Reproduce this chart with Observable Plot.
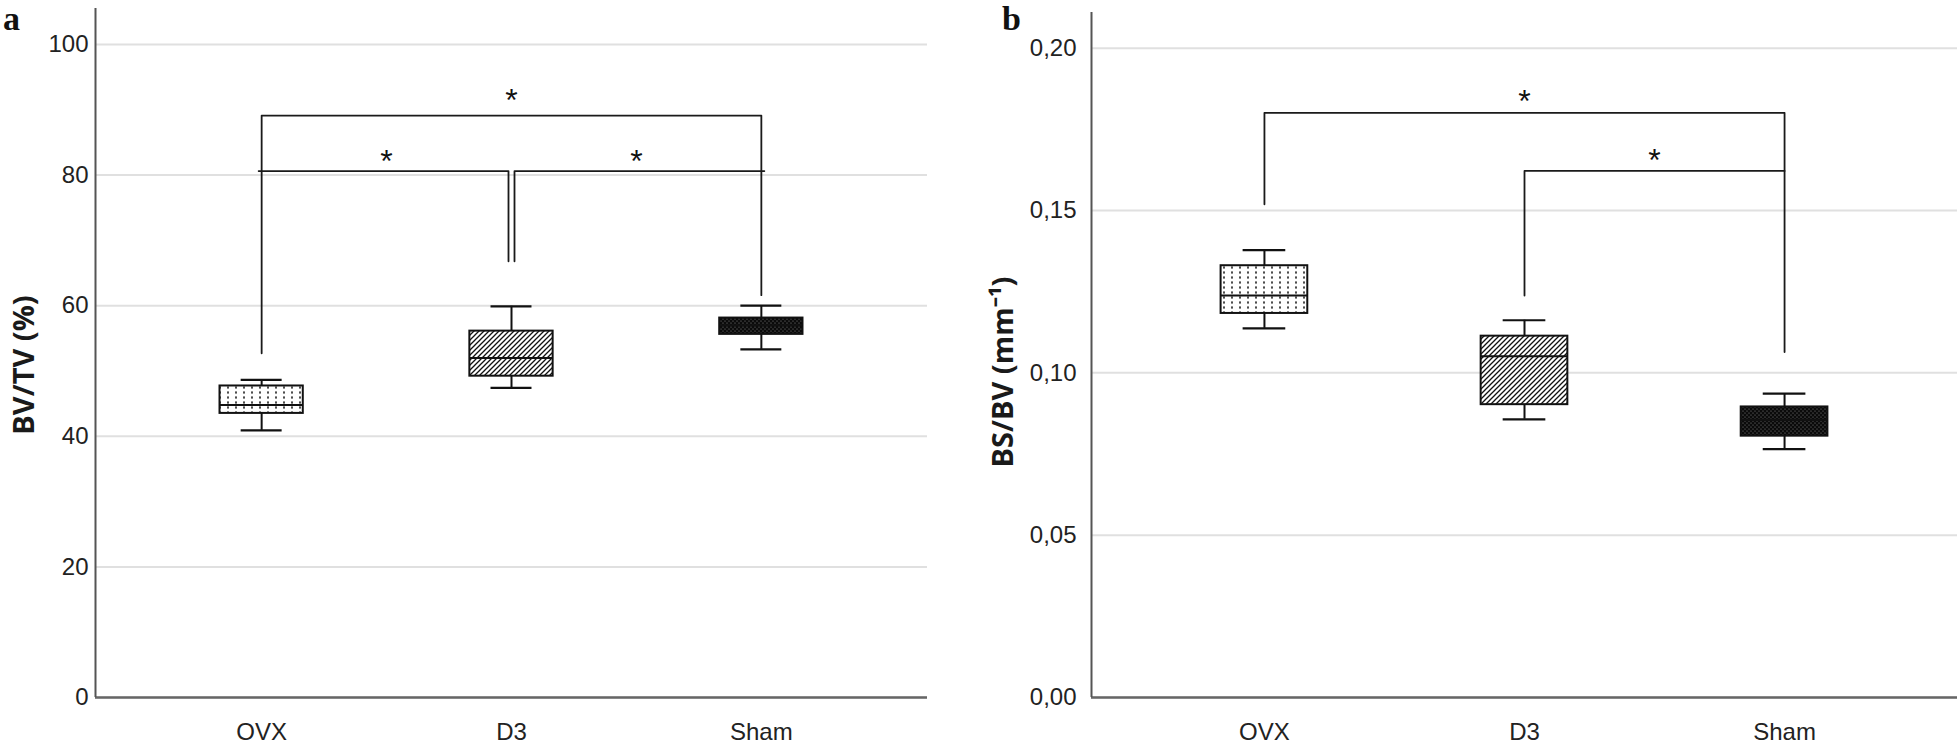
<!DOCTYPE html>
<html><head><meta charset="utf-8">
<script src="https://cdn.jsdelivr.net/npm/d3@7"></script>
<script src="https://cdn.jsdelivr.net/npm/@observablehq/plot@0.6"></script>
<style>
html,body{margin:0;padding:0;background:#fff;}
#root{position:relative;width:1958px;height:744px;overflow:hidden;background:#fff;}
.panel{position:absolute;top:0;}
.letter{position:absolute;font-family:"Liberation Serif","Times New Roman",serif;font-weight:bold;font-size:34px;line-height:38px;color:#111;}
.ylab{position:absolute;font-family:"Open Sans",sans-serif;font-weight:bold;font-size:29px;line-height:1;color:#1a1a1a;white-space:nowrap;transform:translate(-50%,-50%) rotate(-90deg);}
</style></head><body>
<div id="root">
<svg width="0" height="0" style="position:absolute;left:0;top:0">
<defs>
<pattern id="pDots" patternUnits="userSpaceOnUse" width="8" height="5"><rect width="8" height="5" fill="#fff"/><rect x="3.2" y="1.4" width="1.6" height="2.2" fill="#222"/></pattern>
<pattern id="pHatch" patternUnits="userSpaceOnUse" width="5" height="5"><rect width="5" height="5" fill="#fff"/><path d="M-1,1 L1,-1 M0,5 L5,0 M4,6 L6,4" stroke="#111" stroke-width="1.3"/></pattern>
<pattern id="pDark" patternUnits="userSpaceOnUse" width="4" height="4"><rect width="4" height="4" fill="#0a0a0a"/><circle cx="1" cy="1" r="0.6" fill="#888"/><circle cx="3" cy="3" r="0.6" fill="#888"/></pattern>
</defs></svg>
<div class="letter" style="left:3px;top:0px">a</div>
<div class="letter" style="left:1002px;top:0px">b</div>
<div class="ylab" style="left:22px;top:365px">BV/TV (%)</div>
<div class="ylab" style="left:1001px;top:372px">BS/BV (mm⁻¹)</div>
<div id="pa" class="panel" style="left:0px"></div>
<div id="pb" class="panel" style="left:980px"></div>
</div>
<script>
// ---- data ----
const categories = ["OVX", "D3", "Sham"];
const patterns = ["url(#pDots)", "url(#pHatch)", "url(#pDark)"];

// Panel a: BV/TV (%)
const bvtvLow    = [40.9, 47.4, 53.3];
const bvtvQ1     = [43.5, 49.2, 55.6];
const bvtvMedian = [44.8, 52.0, 57.0];
const bvtvQ3     = [47.7, 56.1, 58.1];
const bvtvHigh   = [48.65, 59.9, 60.0];
const bvtvTicks  = [0, 20, 40, 60, 80, 100];
const bvtvBracketFrom = ["OVX", "OVX", "D3"];
const bvtvBracketTo   = ["Sham", "D3", "Sham"];
const bvtvBracketY    = [89.1, 80.6, 80.6];
const bvtvLegFrom     = [52.7, null, 66.8];
const bvtvLegTo       = [61.6, 66.8, null];
const bvtvStarY       = [91.3, 82.1, 82.1];
const bvtvStarText    = ["*", "*", "*"];

// Panel b: BS/BV (mm-1)
const bsbvLow    = [0.1137, 0.0857, 0.0765];
const bsbvQ1     = [0.1183, 0.0902, 0.0805];
const bsbvMedian = [0.1238, 0.1051, 0.0855];
const bsbvQ3     = [0.1330, 0.1113, 0.0895];
const bsbvHigh   = [0.1378, 0.1162, 0.0936];
const bsbvTicks  = [0, 0.05, 0.10, 0.15, 0.20];
const bsbvBracketFrom = ["OVX", "D3"];
const bsbvBracketTo   = ["Sham", "Sham"];
const bsbvBracketY    = [0.1801, 0.1622];
const bsbvLegFrom     = [0.1519, 0.1238];
const bsbvLegTo       = [0.1064, null];
const bsbvStarY       = [0.1835, 0.1652];
const bsbvStarText    = ["*", "*"];

// ---- drawing ----
const xDomain = [-0.665, 2.665];
const ink = "#111";

function boxMarks(low, q1, med, q3, high) {
  const hw = 1 / 6, cw = 0.082;
  const rows = categories.map((c, i) => ({i, low: low[i], q1: q1[i], med: med[i], q3: q3[i], high: high[i]}));
  const marks = [
    Plot.ruleX(rows, {x: "i", y1: "q3", y2: "high", stroke: ink, strokeWidth: 2}),
    Plot.ruleX(rows, {x: "i", y1: "low", y2: "q1", stroke: ink, strokeWidth: 2}),
    Plot.ruleY(rows, {y: "high", x1: d => d.i - cw, x2: d => d.i + cw, stroke: ink, strokeWidth: 2.2}),
    Plot.ruleY(rows, {y: "low", x1: d => d.i - cw, x2: d => d.i + cw, stroke: ink, strokeWidth: 2.2})
  ];
  rows.forEach((r, k) => {
    marks.push(Plot.rect([r], {x1: d => d.i - hw, x2: d => d.i + hw, y1: "q1", y2: "q3", fill: patterns[k], stroke: ink, strokeWidth: 2}));
  });
  marks.push(Plot.ruleY(rows, {y: "med", x1: d => d.i - hw, x2: d => d.i + hw, stroke: ink, strokeWidth: 2}));
  return marks;
}

function bracketMarks(from, to, y, legFrom, legTo, starY, starText, splitShared) {
  const marks = [];
  const stars = [];
  from.forEach((f, k) => {
    const a = categories.indexOf(f), b = categories.indexOf(to[k]);
    const pts = [];
    if (legFrom[k] != null) pts.push({x: a, y: legFrom[k]});
    pts.push({x: a, y: y[k]}, {x: b, y: y[k]});
    if (legTo[k] != null) pts.push({x: b, y: legTo[k]});
    let dx = 0;
    if (splitShared) dx = (to[k] === "D3") ? -3 : (f === "D3" ? 3 : 0);
    marks.push(Plot.line(pts, {x: "x", y: "y", stroke: "#1a1a1a", strokeWidth: 1.8, dx}));
    stars.push({x: (a + b) / 2, y: starY[k], t: starText[k]});
  });
  marks.push(Plot.text(stars, {x: "x", y: "y", text: "t", fontSize: 32, fill: ink,
    fontFamily: "'Liberation Sans', Arial, sans-serif"}));
  return marks;
}

function panel({width, marginLeft, marginRight, marginTop, yTop, ticks, tickFormat, tickPadding,
                low, q1, med, q3, high, bracket}) {
  return Plot.plot({
    width, height: 744, marginLeft, marginRight, marginTop, marginBottom: 47,
    x: {domain: xDomain},
    y: {domain: [0, yTop]},
    style: {fontFamily: "'Liberation Sans', Arial, sans-serif", color: "#222", background: "transparent", overflow: "visible"},
    marks: [
      Plot.gridY({ticks, stroke: "#e0e0e0", strokeOpacity: 1, strokeWidth: 2}),
      Plot.axisY({ticks, tickFormat, tickSize: 0, tickPadding, fontSize: 24, label: null}),
      Plot.axisX({ticks: [0, 1, 2], tickFormat: i => categories[i], tickSize: 0, tickPadding: 25, fontSize: 24, label: null}),
      Plot.ruleY([0], {stroke: "#666", strokeWidth: 2.5}),
      Plot.ruleX([xDomain[0]], {stroke: "#555", strokeWidth: 2}),
      ...bracket,
      ...boxMarks(low, q1, med, q3, high)
    ]
  });
}

document.getElementById("pa").append(panel({
  width: 960, marginLeft: 95, marginRight: 33, marginTop: 8, yTop: 105.5,
  ticks: bvtvTicks, tickFormat: d => String(d), tickPadding: 7,
  low: bvtvLow, q1: bvtvQ1, med: bvtvMedian, q3: bvtvQ3, high: bvtvHigh,
  bracket: bracketMarks(bvtvBracketFrom, bvtvBracketTo, bvtvBracketY, bvtvLegFrom, bvtvLegTo, bvtvStarY, bvtvStarText, true)
}));

document.getElementById("pb").append(panel({
  width: 978, marginLeft: 111, marginRight: 1, marginTop: 12, yTop: 0.211,
  ticks: bsbvTicks, tickFormat: d => d.toFixed(2).replace(".", ","), tickPadding: 15,
  low: bsbvLow, q1: bsbvQ1, med: bsbvMedian, q3: bsbvQ3, high: bsbvHigh,
  bracket: bracketMarks(bsbvBracketFrom, bsbvBracketTo, bsbvBracketY, bsbvLegFrom, bsbvLegTo, bsbvStarY, bsbvStarText, false)
}));
</script>
</body></html>
